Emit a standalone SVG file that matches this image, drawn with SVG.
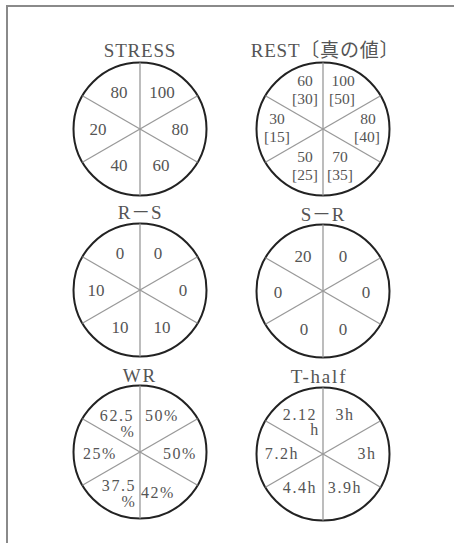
<svg xmlns="http://www.w3.org/2000/svg" xmlns:xlink="http://www.w3.org/1999/xlink" width="454" height="543" viewBox="0 0 454 543">
<style>
.frame{stroke:#8a8a8a;stroke-width:2;fill:none}
.rim{fill:#fff;stroke:#222;stroke-width:2}
.spoke{stroke:#999;stroke-width:1.3}
text{font-family:"Liberation Serif","Noto Sans CJK JP",serif;fill:#555;text-anchor:middle}
.t{font-size:19px;letter-spacing:0.8px}
.n{font-size:17px}
.r{font-size:15.5px}
.w{font-size:16px;letter-spacing:1.6px}
</style>
<defs>
<g id="wheel">
<circle class="rim" cx="0" cy="0" r="66.5"/>
<line class="spoke" x1="0" y1="-66.5" x2="0" y2="66.5"/>
<line class="spoke" x1="-57.6" y1="-33.2" x2="57.6" y2="33.2"/>
<line class="spoke" x1="-57.6" y1="33.2" x2="57.6" y2="-33.2"/>
</g>
</defs>
<rect width="454" height="543" fill="#fff"/>
<g id="frame"><polyline class="frame" points="7,543 7,6 454,6"/></g>
<g id="connectors"></g>
<g id="stress">
<text class="t" x="140" y="57">STRESS</text>
<use xlink:href="#wheel" x="140" y="129"/>
<text class="n" x="119" y="98">80</text>
<text class="n" x="162" y="98">100</text>
<text class="n" x="98" y="135">20</text>
<text class="n" x="180" y="135">80</text>
<text class="n" x="119" y="171">40</text>
<text class="n" x="161" y="171">60</text>
</g>
<g id="rest">
<text class="t" x="325" y="57">REST〔真の値〕</text>
<use xlink:href="#wheel" x="323" y="129"/>
<text class="r" x="305" y="86">60</text><text class="r" x="305" y="104">[30]</text>
<text class="r" x="343" y="86">100</text><text class="r" x="342" y="104">[50]</text>
<text class="r" x="277" y="124">30</text><text class="r" x="277" y="142">[15]</text>
<text class="r" x="368" y="124">80</text><text class="r" x="367" y="142">[40]</text>
<text class="r" x="305" y="162">50</text><text class="r" x="305" y="180">[25]</text>
<text class="r" x="340" y="162">70</text><text class="r" x="340" y="180">[35]</text>
</g>
<g id="r-s">
<text class="t" x="140" y="219">R－S</text>
<use xlink:href="#wheel" x="140" y="290"/>
<text class="n" x="120" y="259">0</text>
<text class="n" x="158" y="259">0</text>
<text class="n" x="96" y="296">10</text>
<text class="n" x="183" y="296">0</text>
<text class="n" x="120" y="333">10</text>
<text class="n" x="162" y="333">10</text>
</g>
<g id="s-r">
<text class="t" x="323" y="221">S－R</text>
<use xlink:href="#wheel" x="323" y="291"/>
<text class="n" x="303" y="262">20</text>
<text class="n" x="343" y="262">0</text>
<text class="n" x="278" y="298">0</text>
<text class="n" x="366" y="298">0</text>
<text class="n" x="304" y="335">0</text>
<text class="n" x="343" y="335">0</text>
</g>
<g id="wr">
<text class="t" x="140" y="382" style="letter-spacing:2px">WR</text>
<use xlink:href="#wheel" x="140" y="452"/>
<text class="w" x="117" y="421">62.5</text><text class="w" x="128" y="437">%</text>
<text class="w" x="162" y="421">50%</text>
<text class="w" x="100" y="459">25%</text>
<text class="w" x="180" y="459">50%</text>
<text class="w" x="119" y="491">37.5</text><text class="w" x="129" y="507">%</text>
<text class="w" x="158" y="498">42%</text>
</g>
<g id="t-half">
<text class="t" x="319" y="383" style="letter-spacing:1.8px">T-half</text>
<use xlink:href="#wheel" x="323" y="454"/>
<text class="w" x="300" y="420">2.12</text><text class="w" x="315" y="435">h</text>
<text class="w" x="345" y="420">3h</text>
<text class="w" x="282" y="459">7.2h</text>
<text class="w" x="367" y="459">3h</text>
<text class="w" x="300" y="493">4.4h</text>
<text class="w" x="345" y="493">3.9h</text>
</g>
</svg>
